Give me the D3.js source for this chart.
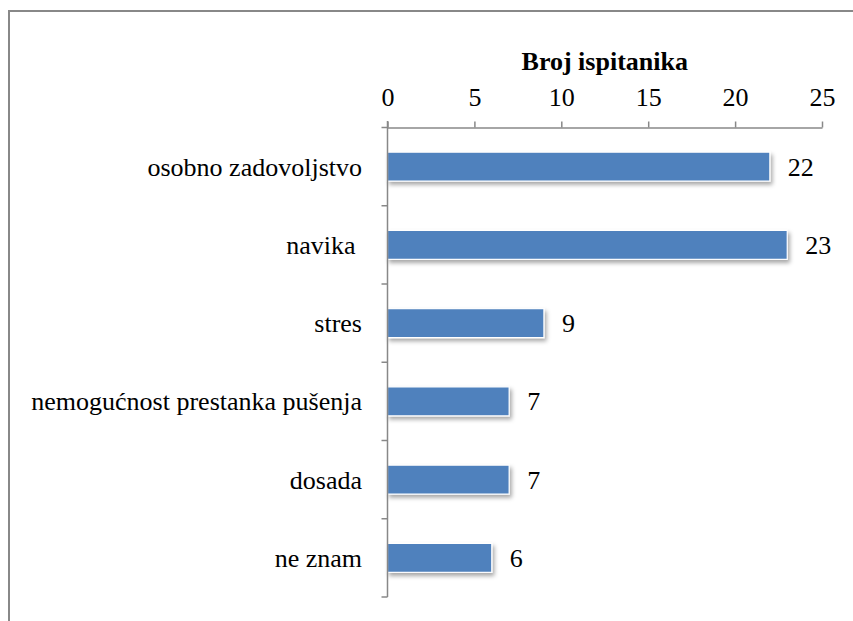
<!DOCTYPE html>
<html><head><meta charset="utf-8">
<script src="https://cdn.jsdelivr.net/npm/d3@7"></script>
<style>
body{margin:0;background:#fff;}
</style></head>
<body>
<script>
const categories = ["osobno zadovoljstvo","navika ","stres","nemogućnost prestanka pušenja","dosada","ne znam"];
const values = [22,23,9,7,7,6];
const tickValues = [0,5,10,15,20,25];
const axisTitle = "Broj ispitanika";

const FONT = "'Liberation Serif', 'Times New Roman', Times, serif";
const FS = "26px";
const W=853,H=621;
const svg=d3.select("body").append("svg").attr("width",W).attr("height",H)
  .style("font-family",FONT);
const defs=svg.append("defs");
const f=defs.append("filter").attr("id","sh").attr("x","-10%").attr("y","-30%").attr("width","130%").attr("height","200%");
f.append("feDropShadow").attr("dx",2).attr("dy",3).attr("stdDeviation",2).attr("flood-color","#000").attr("flood-opacity",0.35);

svg.append("rect").attr("x",9).attr("y",11).attr("width",W).attr("height",H).attr("fill","none").attr("stroke","#888").attr("stroke-width",2);

const x=d3.scaleLinear().domain([0,25]).range([387.5,822]);
const y=d3.scaleBand().domain(categories).range([127.5,597]).paddingInner(0.63).paddingOuter(0.315);

const g=svg.append("g");
g.selectAll("rect.bar").data(values).join("rect")
 .attr("class","bar")
 .attr("x",x(0)).attr("y",(d,i)=>y(categories[i]))
 .attr("width",d=>x(d)-x(0)).attr("height",y.bandwidth())
 .attr("fill","#4F81BD").attr("stroke","#fff").attr("stroke-width",1.2)
 .attr("filter","url(#sh)");

const ax=g.append("g").attr("transform","translate(0,127.5)")
 .call(d3.axisTop(x).tickValues(tickValues).tickSize(6).tickPadding(16).tickSizeOuter(0));
ax.attr("font-family",null).attr("font-size",null);
ax.select(".domain").attr("stroke","#888").attr("stroke-width",1.5);
ax.selectAll(".tick line").attr("stroke","#888").attr("stroke-width",1.5);
ax.selectAll(".tick text").style("font-family",FONT).style("font-size",FS).attr("fill","#000");

const bounds=d3.range(categories.length+1).map(i=>127.5+ i*(597-127.5)/categories.length);
g.append("line").attr("x1",x(0)).attr("x2",x(0)).attr("y1",121).attr("y2",597)
 .attr("stroke","#888").attr("stroke-width",1.5);
g.selectAll("line.ct").data(bounds).join("line").attr("class","ct")
 .attr("x1",x(0)-6).attr("x2",x(0)).attr("y1",d=>d).attr("y2",d=>d)
 .attr("stroke","#888").attr("stroke-width",1.5);

g.selectAll("text.cat").data(categories).join("text").attr("class","cat")
 .attr("x",362).attr("y",d=>y(d)+y.bandwidth()/2).attr("dy","0.35em")
 .attr("text-anchor","end").style("font-family",FONT).style("font-size",FS).style("white-space","pre")
 .text(d=>d);

g.selectAll("text.val").data(values).join("text").attr("class","val")
 .attr("x",d=>x(d)+18).attr("y",(d,i)=>y(categories[i])+y.bandwidth()/2).attr("dy","0.35em")
 .style("font-family",FONT).style("font-size",FS).text(d=>d);

svg.append("text").attr("x",(x(0)+x(25))/2).attr("y",70).attr("text-anchor","middle")
 .style("font-family",FONT).style("font-size",FS).attr("font-weight","bold").text(axisTitle);
</script>
</body></html>
